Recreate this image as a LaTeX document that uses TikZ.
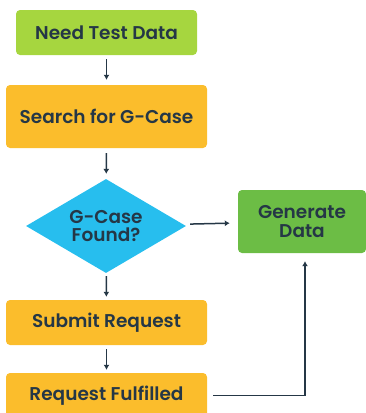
\documentclass[tikz,border=0pt]{standalone}
\usepackage{fontspec}
\setmainfont{Poppins}[BoldFont={Poppins SemiBold}]
\usepackage{tikz}
\usetikzlibrary{arrows.meta,shapes.geometric,positioning}

\definecolor{inkblue}{HTML}{253746}
\definecolor{limegreen}{HTML}{A6D63F}
\definecolor{ambergold}{HTML}{FBBD2C}
\definecolor{skyblue}{HTML}{27BEEE}
\definecolor{leafgreen}{HTML}{6CBD45}

\begin{document}
\begin{tikzpicture}[
x=1pt, y=-1pt,
font=\bfseries\fontsize{18.5}{18.5}\selectfont, text=inkblue,
box/.style={rectangle, rounded corners=4pt, inner sep=0pt, align=center, minimum height=45pt},
decision/.style={diamond, aspect=1.7, inner sep=0pt, align=center, fill=skyblue,
    minimum width=160pt, minimum height=94pt},
flow/.style={draw=inkblue, line width=1.5pt, -{Latex[length=5pt,width=6pt]}},
]
\useasboundingbox (0,0) rectangle (366,413);

\node[box, fill=limegreen, minimum width=181pt] (need) at (106.5,32.5) {Need Test Data};
\node[box, fill=ambergold, minimum width=201pt, minimum height=63pt] (search) at (106.5,116.5) {Search for G-Case};
\node[decision] (found) at (106,226) {G-Case\\Found?};
\node[box, fill=leafgreen, minimum width=128pt, minimum height=63pt] (generate) at (302,221.5) {Generate\\Data};
\node[box, fill=ambergold, minimum width=201pt] (submit) at (106.5,322.5) {Submit Request};
\node[box, fill=ambergold, minimum width=201pt] (fulfilled) at (106.5,395.5) {Request Fulfilled};

\draw[flow, shorten <=4pt, shorten >=5pt] (need) to (search);
\draw[flow, shorten <=5pt, shorten >=5pt] (search) to (found);
\draw[flow, shorten <=7pt, shorten >=8pt] (found) to (generate);
\draw[flow, shorten <=3pt, shorten >=3pt] (found) to (submit);
\draw[flow, shorten <=4pt, shorten >=3pt] (submit) to (fulfilled);
\draw[flow, shorten <=6pt, shorten >=8pt] (fulfilled.east) -| ([xshift=3pt]generate.south);

\end{tikzpicture}
\end{document}
